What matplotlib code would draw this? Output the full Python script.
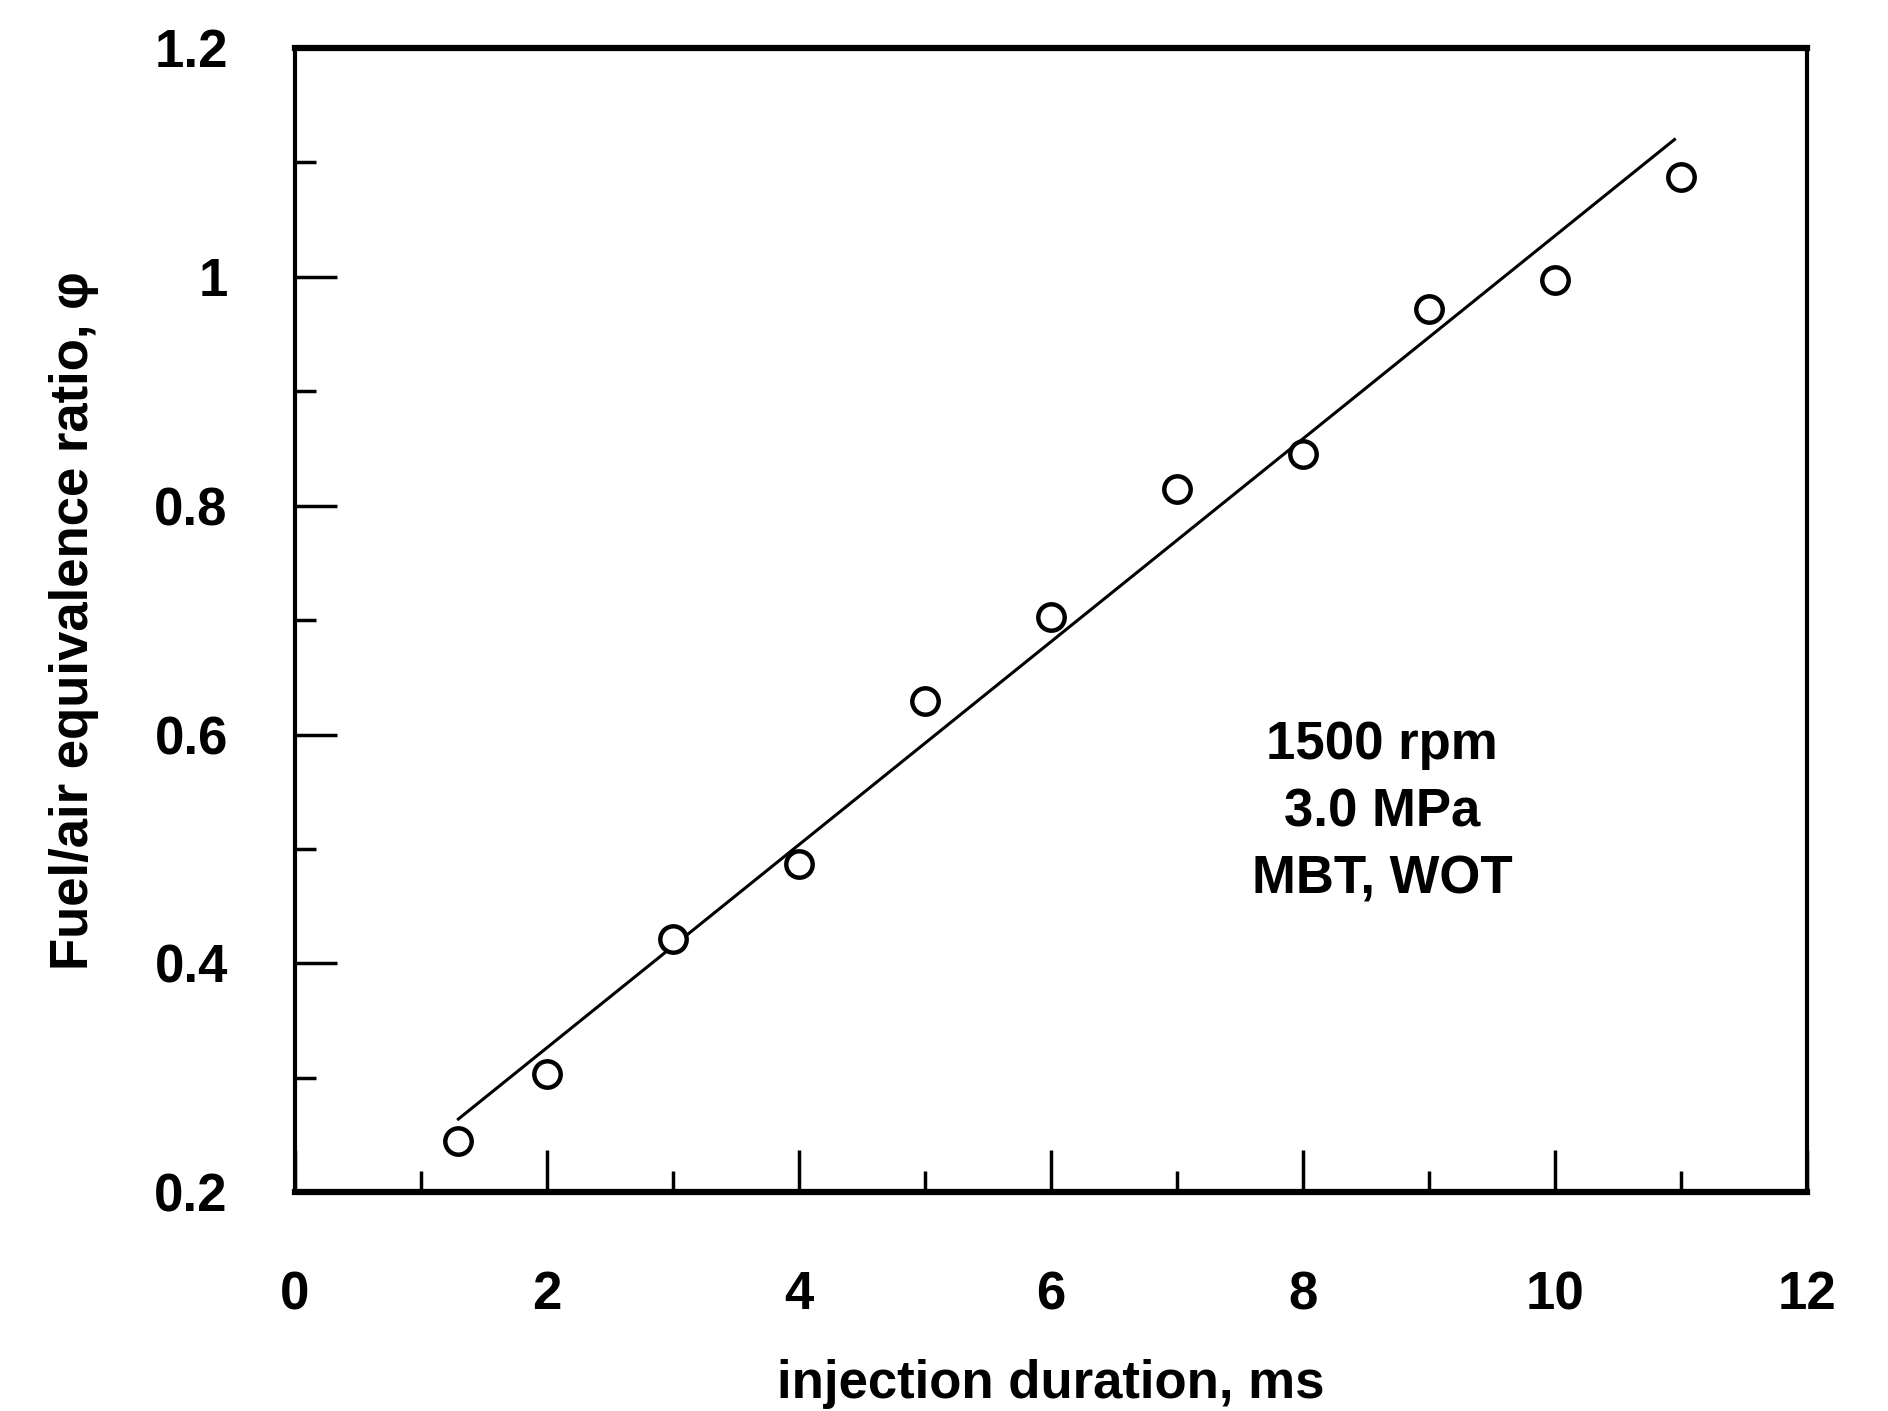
import matplotlib
matplotlib.use("Agg")
import matplotlib.pyplot as plt
from matplotlib.ticker import MultipleLocator

# injection duration (ms) vs measured fuel/air equivalence ratio
duration = [1.3, 2.0, 3.0, 4.0, 5.0, 6.0, 7.0, 8.0, 9.0, 10.0, 11.0]
phi = [0.245, 0.303, 0.421, 0.487, 0.629, 0.703, 0.815, 0.845, 0.972, 0.997, 1.087]

# fitted line end points
fit_x = [1.3, 10.95]
fit_y = [0.264, 1.12]

x_ticks = [0, 2, 4, 6, 8, 10, 12]
x_labels = ["0", "2", "4", "6", "8", "10", "12"]
y_ticks = [0.2, 0.4, 0.6, 0.8, 1.0, 1.2]
y_labels = ["0.2", "0.4", "0.6", "0.8", "1", "1.2"]

conditions = "1500 rpm\n3.0 MPa\nMBT, WOT"

plt.rcParams['font.family'] = ['Liberation Sans', 'DejaVu Sans']

fig = plt.figure(figsize=(18.88, 14.11), dpi=100)
ax = fig.add_axes([0.156, 0.155, 0.801, 0.811])

ax.plot(fit_x, fit_y, color='black', linewidth=2.2)
ax.plot(duration, phi, 'o', markersize=19, markerfacecolor='white',
        markeredgecolor='black', markeredgewidth=3.2)

ax.set_xlim(0, 12)
ax.set_ylim(0.2, 1.2)
ax.set_xticks(x_ticks)
ax.set_xticklabels(x_labels)
ax.set_yticks(y_ticks)
ax.set_yticklabels(y_labels)
ax.xaxis.set_minor_locator(MultipleLocator(1))
ax.yaxis.set_minor_locator(MultipleLocator(0.1))

ax.tick_params(which='major', direction='in', length=30, width=2.5,
               labelsize=38, top=False, right=False)
ax.tick_params(axis='x', which='major', pad=56)
ax.tick_params(axis='y', which='major', pad=48)
ax.tick_params(which='minor', direction='in', length=15, width=2.5,
               top=False, right=False)
for lab in ax.get_xticklabels() + ax.get_yticklabels():
    lab.set_fontweight('bold')

for side in ['bottom', 'top']:
    ax.spines[side].set_linewidth(4.5)
for side in ['left', 'right']:
    ax.spines[side].set_linewidth(3)

ax.set_xlabel("injection duration, ms", fontsize=38, fontweight='bold', labelpad=28)
ax.set_ylabel("Fuel/air equivalence ratio, \u03c6", fontsize=38, fontweight='bold',
              labelpad=40)

ax.text(8.63, 0.532, conditions, ha='center', va='center', fontsize=38,
        fontweight='bold', linespacing=1.45)

fig.savefig("out.png", dpi=100)
